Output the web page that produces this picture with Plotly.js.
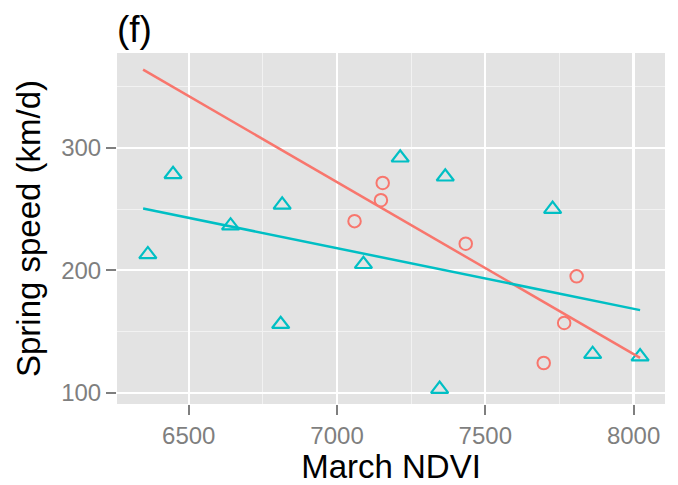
<!DOCTYPE html>
<html>
<head>
<meta charset="utf-8">
<script src="https://cdn.plot.ly/plotly-3.0.1.min.js"></script>
<style>html,body{margin:0;padding:0;background:#fff;}#chart{width:678px;height:485px;}</style>
</head>
<body>
<div id="chart"></div>
<script>
// Teal triangles (group 2)
var tealX = [6362, 6447, 6641, 6815, 6810, 7089, 7213, 7365, 7346, 7727, 7862, 8022];
var tealY = [213, 278.5, 236.5, 253.5, 156, 205, 292, 276.5, 103, 250, 131.5, 129.5];
// Red circles (group 1)
var redX = [7059, 7154, 7148, 7434, 7808, 7766, 7697];
var redY = [240.2, 271.4, 257.3, 221.8, 195.1, 157, 124.3];
// Fitted line endpoints
var fitX = [6346, 8022];
var redFitY = [364, 128.5];
var tealFitY = [250.5, 167.5];
var xTicks = [6500, 7000, 7500, 8000];
var yTicks = [100, 200, 300];

var RED = '#F8766D', TEAL = '#00BFC4';
var FONT = 'Liberation Sans, Arial, Helvetica, sans-serif';

var traces = [
  {x: tealX, y: tealY, type: 'scatter', mode: 'markers', name: 'teal',
   marker: {symbol: 'triangle-up-open', size: 15, color: TEAL, line: {width: 2.2, color: TEAL}}},
  {x: redX, y: redY, type: 'scatter', mode: 'markers', name: 'red',
   marker: {symbol: 'circle-open', size: 12.5, color: RED, line: {width: 2, color: RED}}},
  {x: fitX, y: redFitY, type: 'scatter', mode: 'lines', name: 'red fit',
   line: {color: RED, width: 2.5}},
  {x: fitX, y: tealFitY, type: 'scatter', mode: 'lines', name: 'teal fit',
   line: {color: TEAL, width: 2.5}}
];

var axisCommon = {
  showline: false, zeroline: false,
  ticks: 'outside', ticklen: 10, tickwidth: 2, tickcolor: '#7f7f7f',
  tickfont: {family: FONT, size: 24, color: '#7f7f7f'},
  showgrid: true, gridcolor: '#ffffff', gridwidth: 2.2,
  tickmode: 'array'
};

var layout = {
  width: 678, height: 485,
  margin: {l: 117, r: 13, t: 53, b: 81, pad: 0},
  paper_bgcolor: '#ffffff', plot_bgcolor: '#E3E3E3',
  showlegend: false,
  font: {family: FONT},
  title: {text: '(f)', font: {family: FONT, size: 37, color: '#000'},
          xref: 'paper', x: 0, xanchor: 'left', yref: 'container', y: 0.94, yanchor: 'middle'},
  xaxis: Object.assign({}, axisCommon, {
    range: [6258, 8106], tickvals: xTicks, ticktext: xTicks.map(String),
    minor: {tickvals: [6250, 6750, 7250, 7750], showgrid: true, gridcolor: '#F2F2F2', gridwidth: 1, ticks: ''},
    title: {text: 'March NDVI', font: {family: FONT, size: 33, color: '#000'}, standoff: 4}
  }),
  yaxis: Object.assign({}, axisCommon, {
    range: [90.8, 377.6], tickvals: yTicks, ticktext: yTicks.map(String),
    minor: {tickvals: [150, 250, 350], showgrid: true, gridcolor: '#F2F2F2', gridwidth: 1, ticks: ''},
    title: {text: 'Spring speed (km/d)', font: {family: FONT, size: 33, color: '#000'}, standoff: 10}
  })
};

Plotly.newPlot('chart', traces, layout, {displayModeBar: false, staticPlot: true});
</script>
</body>
</html>
